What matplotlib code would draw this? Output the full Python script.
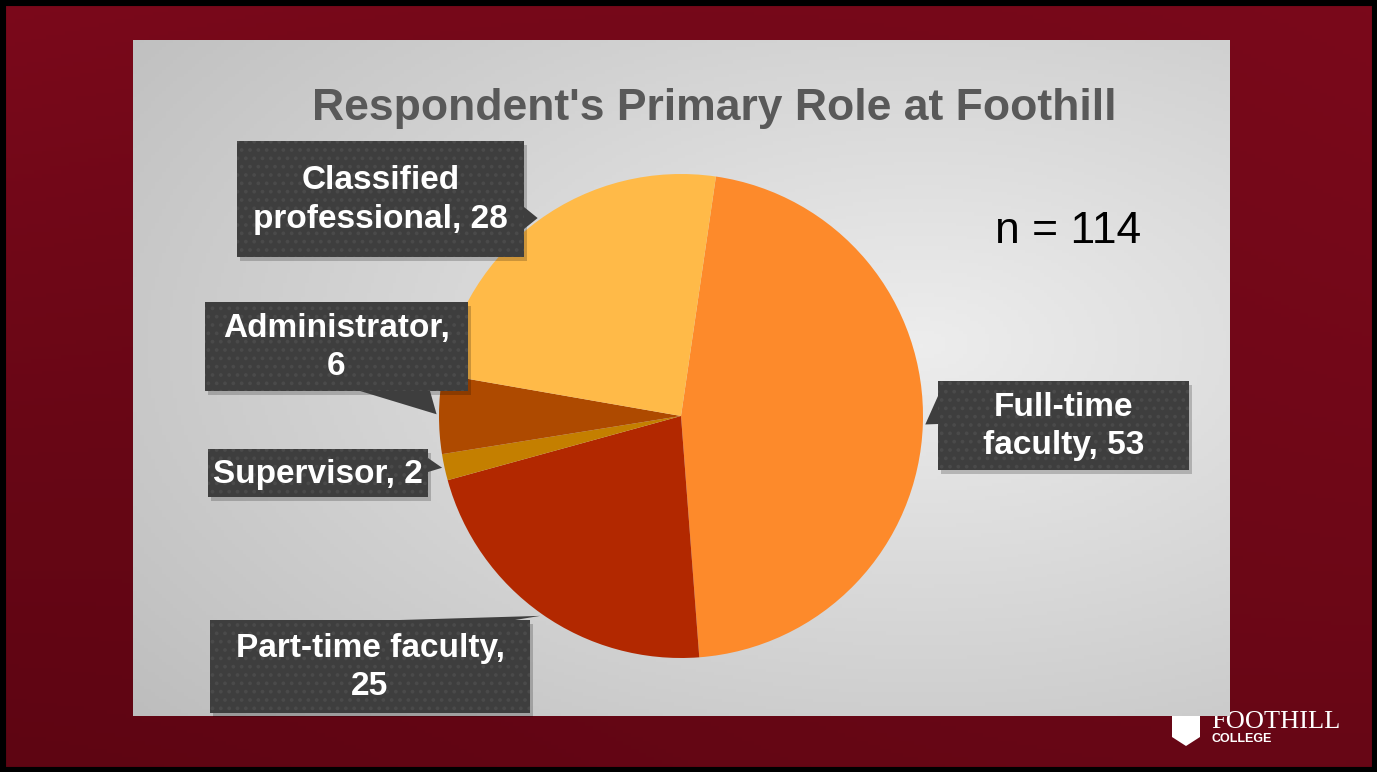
import matplotlib.pyplot as plt
import numpy as np
from matplotlib.patches import Rectangle, Polygon

W, H = 1377, 772

# Data
roles = ["Full-time faculty", "Part-time faculty", "Supervisor", "Administrator", "Classified professional"]
counts = [53, 25, 2, 6, 28]
colors = ["#FD8A2B", "#B22800", "#C47F00", "#AE4A00", "#FFBA48"]
label_text = ["Full-time\nfaculty, 53", "Part-time faculty,\n25", "Supervisor, 2",
              "Administrator,\n6", "Classified\nprofessional, 28"]
title = "Respondent's Primary Role at Foothill"
n_text = "n = 114"

# callout boxes (x0, y0, x1, y1) in pixels, and the pointer base on the box edge
boxes = [(938, 381, 1189, 470), (210, 620, 530, 713), (208, 449, 428, 497),
         (205, 302, 468, 391), (237, 141, 524, 257)]
bases = [((938, 396), (938, 424)), ((400, 620), (515, 620)), ((428, 458), (428, 472)),
         ((360, 391), (430, 391)), ((524, 207), (524, 229))]

fig = plt.figure(figsize=(W / 100, H / 100), dpi=100)

# background axes in pixel coordinates
bg = fig.add_axes([0, 0, 1, 1], zorder=0)
bg.set_xlim(0, W)
bg.set_ylim(H, 0)
bg.axis("off")

yy, xx = np.mgrid[0:1:200j, 0:1:360j]
red_top = np.array([123, 9, 27]) / 255
red_bot = np.array([92, 5, 18]) / 255
t = np.clip(yy * 0.8 + 0.15 * np.sin(xx * 3 + yy * 2), 0, 1)[..., None]
red = red_top * (1 - t) + red_bot * t
bg.imshow(red, extent=(0, W, H, 0), aspect="auto", zorder=0)
bg.add_patch(Rectangle((0, 0), W, H, fill=False, edgecolor="black", linewidth=8, zorder=1))

# logo (partly hidden under the panel)
bg.add_patch(Polygon([(1172, 705), (1200, 705), (1200, 737), (1186, 746), (1172, 737)],
                     closed=True, facecolor="white", edgecolor="none", zorder=2))
bg.text(1211, 728, "FOOTHILL", family="Liberation Serif", fontsize=19, color="white",
        ha="left", va="baseline", zorder=2)
bg.text(1212, 742, "COLLEGE", family="Liberation Sans", fontsize=9, fontweight="bold",
        color="white", ha="left", va="baseline", zorder=2)

# grey panel with soft gradient
py, px = np.mgrid[0:1:200j, 0:1:300j]
d = np.sqrt(((px - 0.72) / 1.1) ** 2 + ((py - 0.45) / 1.0) ** 2)
g = np.clip(0.93 - 0.22 * d, 0.74, 0.93)
panel = np.dstack([g, g, g])
bg.imshow(panel, extent=(133, 1230, 716, 40), aspect="auto", zorder=3)

bg.text(714, 120, title, family="Liberation Sans", fontsize=32, fontweight="bold",
        color="#595959", ha="center", va="baseline", zorder=4)
bg.text(995, 243, n_text, family="Liberation Sans", fontsize=32, color="black",
        ha="left", va="baseline", zorder=4)

# pie axes
cx, cy, r = 681, 416, 242
pie_ax = fig.add_axes([(cx - r) / W, (H - cy - r) / H, 2 * r / W, 2 * r / H], zorder=1)
wedges, _ = pie_ax.pie(counts, colors=colors, startangle=81.7, counterclock=False,
                       radius=1, wedgeprops=dict(linewidth=0))
pie_ax.set_xlim(-1, 1)
pie_ax.set_ylim(-1, 1)
pie_ax.axis("off")

# overlay axes for callouts
ov = fig.add_axes([0, 0, 1, 1], zorder=2)
ov.set_xlim(0, W)
ov.set_ylim(H, 0)
ov.axis("off")
ov.patch.set_alpha(0)

plt.rcParams["hatch.linewidth"] = 1.5
for w, (x0, y0, x1, y1), (b1, b2), txt in zip(wedges, boxes, bases, label_text):
    mid = np.deg2rad((w.theta1 + w.theta2) / 2)
    tip_disp = pie_ax.transData.transform((1.01 * np.cos(mid), 1.01 * np.sin(mid)))
    tip = ov.transData.inverted().transform(tip_disp)
    # shadow
    ov.add_patch(Rectangle((x0 + 3, y0 + 4), x1 - x0, y1 - y0, facecolor="black",
                           alpha=0.2, edgecolor="none", zorder=1))
    ov.add_patch(Polygon([b1, tuple(tip), b2], closed=True, facecolor="#3E3E3E",
                         edgecolor="none", zorder=2))
    ov.add_patch(Rectangle((x0, y0), x1 - x0, y1 - y0, facecolor="#3E3E3E",
                           edgecolor="none", zorder=2))
    ov.add_patch(Rectangle((x0, y0), x1 - x0, y1 - y0, fill=False, hatch="..",
                           edgecolor="#4A4A4A", linewidth=0, zorder=3))
    ov.text((x0 + x1) / 2, (y0 + y1) / 2 + 1, txt, family="Liberation Sans", fontsize=24,
            fontweight="bold", color="white", ha="center", va="center",
            linespacing=1.3, multialignment="center", zorder=4)

fig.savefig("out.png", dpi=100)
